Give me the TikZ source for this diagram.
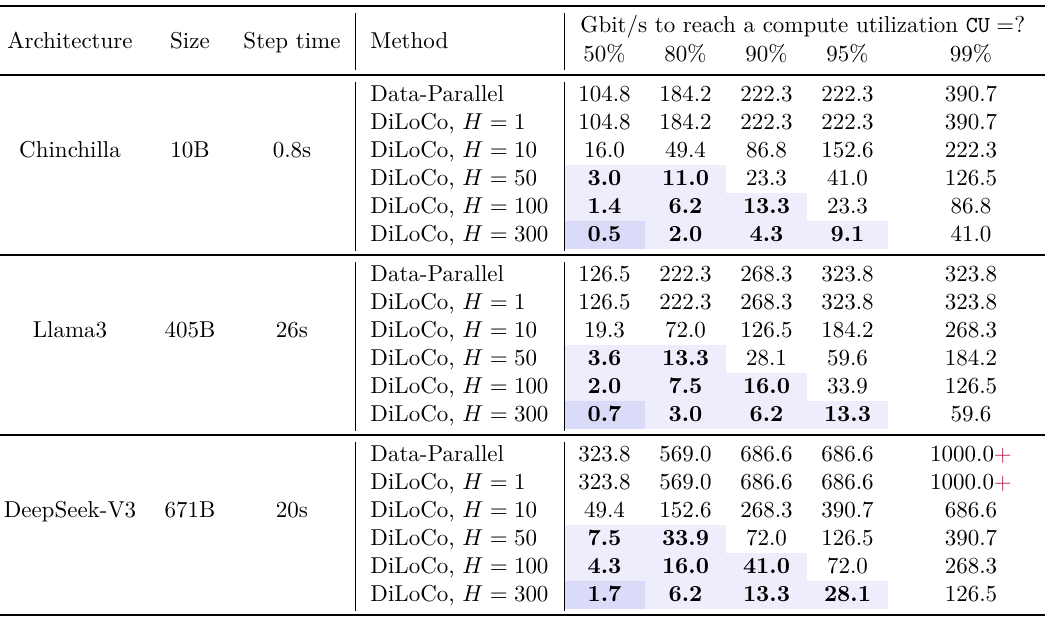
\documentclass[tikz,border=0pt]{standalone}
\usepackage{tikz}

\definecolor{cellblue}{RGB}{237,237,252}
\definecolor{cellbluedark}{RGB}{218,218,249}
\definecolor{plusred}{RGB}{185,35,75}
\newcommand{\plusmark}{\textcolor{plusred}{+}}

% one block of six rows: #1 block index, #2 rows (H/values)
\newcommand{\blockrows}[2]{%
  \foreach \hval/\va/\vb/\vc/\vd/\ve [count=\row from 0] in {#2}{
    \pgfmathsetmacro{\yb}{75+180*#1+27+28*\row}
    \ifnum\hval=0 \def\meth{Data-Parallel}\else\def\meth{DiLoCo, $H=\hval$}\fi
    \node[anchor=base west] (m#1-\row) at (370,\yb) {\meth};
    \foreach \val/\xc [count=\col] in {\va/604.5,\vb/685.5,\vc/766.5,\vd/847.5,\ve/971}{
      \pgfmathtruncatemacro{\hl}{(\row>2)*(\col<\row)}
      \pgfmathtruncatemacro{\dk}{(\row==5)*(\col==1)}
      \ifnum\hl=1
        \ifnum\dk=1 \def\shade{cellbluedark}\else\def\shade{cellblue}\fi
        \fill[fill=\shade] (\xc-40.5,\yb-21) rectangle (\xc+40.5,\yb+7);
        \node[anchor=base] (v#1-\row-\col) at (\xc,\yb) {\bfseries\val};
      \else
        \node[anchor=base] (v#1-\row-\col) at (\xc,\yb) {\val};
      \fi
    }
  }%
}

\begin{document}
\begin{tikzpicture}[x=0.435pt, y=-0.435pt,
  every node/.style={inner sep=0pt},
  toprulestyle/.style={line width=0.9pt},
  midrulestyle/.style={line width=0.6pt},
  vrule/.style={line width=0.4pt}]
\useasboundingbox (0,0) rectangle (1052,624);

% Header
\node[anchor=base] (harch) at (70,48.5) {Architecture};
\node[anchor=base] (hsize) at (190,48.5) {Size};
\node[anchor=base] (hstep) at (292,48.5) {Step time};
\node[anchor=base west] (hmeth) at (370,48.5) {Method};
\node[anchor=base west] (hgbit) at (580,33) {Gbit/s to reach a compute utilization $\texttt{CU}=?$};
\foreach \pc/\xc [count=\col] in {50/604.5,80/685.5,90/766.5,95/847.5,99/971}
  \node[anchor=base] (hp\col) at (\xc,62) {\pc\%};

% Architecture, size and step time
\foreach \arch/\size/\steptime [count=\blk from 0] in {Chinchilla/10B/0.8s, Llama3/405B/26s, DeepSeek-V3/671B/20s}{
  \pgfmathsetmacro{\yb}{75+180*\blk+27+56}
  \node[anchor=base] (arch\blk) at (70,\yb) {\arch};
  \node[anchor=base] (size\blk) at (190,\yb) {\size};
  \node[anchor=base] (step\blk) at (292,\yb) {\steptime};
}

% Rows
\blockrows{0}{0/104.8/184.2/222.3/222.3/390.7, 1/104.8/184.2/222.3/222.3/390.7,
  10/16.0/49.4/86.8/152.6/222.3, 50/3.0/11.0/23.3/41.0/126.5,
  100/1.4/6.2/13.3/23.3/86.8, 300/0.5/2.0/4.3/9.1/41.0}
\blockrows{1}{0/126.5/222.3/268.3/323.8/323.8, 1/126.5/222.3/268.3/323.8/323.8,
  10/19.3/72.0/126.5/184.2/268.3, 50/3.6/13.3/28.1/59.6/184.2,
  100/2.0/7.5/16.0/33.9/126.5, 300/0.7/3.0/6.2/13.3/59.6}
\blockrows{2}{0/323.8/569.0/686.6/686.6/1000.0\plusmark, 1/323.8/569.0/686.6/686.6/1000.0\plusmark,
  10/49.4/152.6/268.3/390.7/686.6, 50/7.5/33.9/72.0/126.5/390.7,
  100/4.3/16.0/41.0/72.0/268.3, 300/1.7/6.2/13.3/28.1/126.5}

% Rules
\draw[toprulestyle] (0,6) -- (1045,6);
\draw[midrulestyle] (0,75) -- (1045,75);
\draw[midrulestyle] (0,255) -- (1045,255);
\draw[midrulestyle] (0,435) -- (1045,435);
\draw[toprulestyle] (0,615) -- (1045,615);
\foreach \xv in {355,564}{
  \draw[vrule] (\xv,13) -- (\xv,70);
  \foreach \rt in {75,255,435}
    \draw[vrule] (\xv,\rt+7) -- (\xv,\rt+176);
}

\end{tikzpicture}
\end{document}
